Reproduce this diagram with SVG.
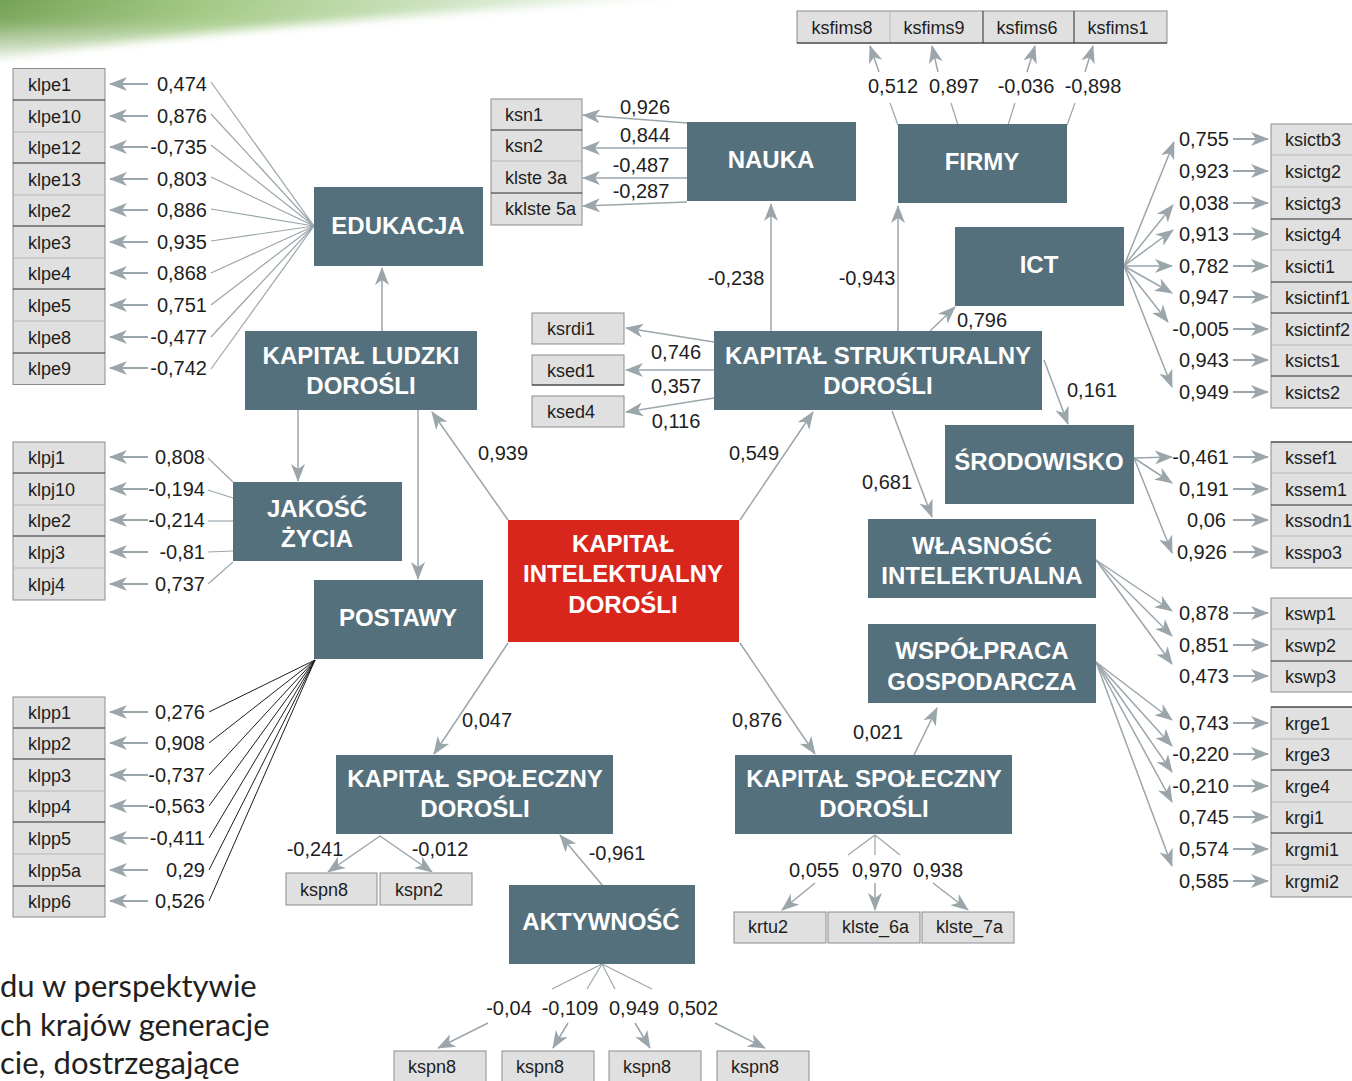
<svg xmlns="http://www.w3.org/2000/svg" width="1352" height="1081" viewBox="0 0 1352 1081">
<defs>
<linearGradient id="gg" x1="0" y1="0" x2="1" y2="0">
<stop offset="0" stop-color="#6a9a48"/>
<stop offset="0.25" stop-color="#9cc67c"/>
<stop offset="0.6" stop-color="#d8ead0"/>
<stop offset="1" stop-color="#ffffff" stop-opacity="0"/>
</linearGradient>
<linearGradient id="gv" x1="0" y1="0" x2="0" y2="1">
<stop offset="0" stop-color="#ffffff" stop-opacity="0"/>
<stop offset="0.5" stop-color="#ffffff" stop-opacity="0.1"/>
<stop offset="1" stop-color="#ffffff" stop-opacity="0.9"/>
</linearGradient>
<filter id="soft" x="-0.1" y="-0.5" width="1.2" height="2">
<feGaussianBlur stdDeviation="5"/>
</filter>
<marker id="ah" markerUnits="userSpaceOnUse" markerWidth="18" markerHeight="14" viewBox="0 0 18 14" refX="17" refY="7" orient="auto">
<path d="M0,0 L18,7 L0,14 L5,7 z" fill="#9aa6ab"/>
</marker>
<style>
.n{fill:#55707d}
.r{fill:#d9261c}
.nt{font-family:"Liberation Sans",Arial,sans-serif;font-weight:bold;font-size:24px;fill:#ffffff;text-anchor:middle}
.v{font-family:"Liberation Sans",Arial,sans-serif;font-size:20px;fill:#1e1e1e}
.l{font-family:"Liberation Sans",Arial,sans-serif;font-size:18px;fill:#1e1e1e}
.m{text-anchor:middle}
.e{text-anchor:end}
.ib{fill:#e0e0e0;stroke:#8c8c8c;stroke-width:1}
.sd{stroke:#2a2a2a;stroke-width:1}
.sl{stroke:#b8b8b8;stroke-width:1}
.c{stroke:#9aa6ab;stroke-width:1.2;fill:none}
.a{stroke:#9aa6ab;stroke-width:1.5;fill:none;marker-end:url(#ah)}
.s{stroke:#9aa6ab;stroke-width:2;fill:none;marker-end:url(#ah)}
.k{stroke:#1e1e1e;stroke-width:1;fill:none}
.body{font-family:Lato,"Liberation Sans",sans-serif;font-size:31px;fill:#231f20}
</style>
</defs>
<rect width="1352" height="1081" fill="#ffffff"/>
<g filter="url(#soft)">
<path d="M-20,-20 H860 C620,4 300,16 -20,60 Z" fill="url(#gg)"/>
<path d="M-20,-20 H860 C620,4 300,16 -20,60 Z" fill="url(#gv)"/>
</g>

<g id="connectors">
<g class="c">
<line x1="211" y1="82" x2="314" y2="226"/>
<line x1="211" y1="114" x2="314" y2="226"/>
<line x1="211" y1="145" x2="314" y2="226"/>
<line x1="211" y1="177" x2="314" y2="226"/>
<line x1="211" y1="209" x2="314" y2="226"/>
<line x1="211" y1="241" x2="314" y2="226"/>
<line x1="211" y1="273" x2="314" y2="226"/>
<line x1="211" y1="305" x2="314" y2="226"/>
<line x1="211" y1="337" x2="314" y2="226"/>
<line x1="211" y1="369" x2="314" y2="226"/>
</g>
<g class="c">
<line x1="208" y1="458" x2="233" y2="482"/>
<line x1="208" y1="490" x2="233" y2="498"/>
<line x1="208" y1="521" x2="233" y2="521"/>
<line x1="208" y1="552" x2="233" y2="551"/>
<line x1="208" y1="584" x2="233" y2="562"/>
</g>
<g class="k">
<line x1="209" y1="712" x2="315" y2="660"/>
<line x1="209" y1="743" x2="315" y2="660"/>
<line x1="209" y1="775" x2="315" y2="660"/>
<line x1="209" y1="806" x2="315" y2="660"/>
<line x1="209" y1="838" x2="315" y2="660"/>
<line x1="209" y1="870" x2="315" y2="660"/>
<line x1="209" y1="901" x2="315" y2="660"/>
</g>
<g class="s">
<line x1="148" y1="84" x2="110" y2="84"/>
<line x1="148" y1="116" x2="110" y2="116"/>
<line x1="148" y1="147" x2="110" y2="147"/>
<line x1="148" y1="179" x2="110" y2="179"/>
<line x1="148" y1="210" x2="110" y2="210"/>
<line x1="148" y1="242" x2="110" y2="242"/>
<line x1="148" y1="273" x2="110" y2="273"/>
<line x1="148" y1="305" x2="110" y2="305"/>
<line x1="148" y1="337" x2="110" y2="337"/>
<line x1="148" y1="368" x2="110" y2="368"/>
<line x1="148" y1="457" x2="110" y2="457"/>
<line x1="148" y1="489" x2="110" y2="489"/>
<line x1="148" y1="520" x2="110" y2="520"/>
<line x1="148" y1="552" x2="110" y2="552"/>
<line x1="148" y1="584" x2="110" y2="584"/>
<line x1="148" y1="712" x2="110" y2="712"/>
<line x1="148" y1="743" x2="110" y2="743"/>
<line x1="148" y1="775" x2="110" y2="775"/>
<line x1="148" y1="806" x2="110" y2="806"/>
<line x1="148" y1="838" x2="110" y2="838"/>
<line x1="148" y1="870" x2="110" y2="870"/>
<line x1="148" y1="901" x2="110" y2="901"/>
</g>
<g class="s">
<line x1="1233" y1="139" x2="1268" y2="139"/>
<line x1="1233" y1="171" x2="1268" y2="171"/>
<line x1="1233" y1="203" x2="1268" y2="203"/>
<line x1="1233" y1="234" x2="1268" y2="234"/>
<line x1="1233" y1="266" x2="1268" y2="266"/>
<line x1="1233" y1="297" x2="1268" y2="297"/>
<line x1="1233" y1="329" x2="1268" y2="329"/>
<line x1="1233" y1="360" x2="1268" y2="360"/>
<line x1="1233" y1="392" x2="1268" y2="392"/>
<line x1="1233" y1="457" x2="1268" y2="457"/>
<line x1="1233" y1="489" x2="1268" y2="489"/>
<line x1="1233" y1="520" x2="1268" y2="520"/>
<line x1="1233" y1="552" x2="1268" y2="552"/>
<line x1="1233" y1="613" x2="1268" y2="613"/>
<line x1="1233" y1="645" x2="1268" y2="645"/>
<line x1="1233" y1="676" x2="1268" y2="676"/>
<line x1="1233" y1="723" x2="1268" y2="723"/>
<line x1="1233" y1="754" x2="1268" y2="754"/>
<line x1="1233" y1="786" x2="1268" y2="786"/>
<line x1="1233" y1="817" x2="1268" y2="817"/>
<line x1="1233" y1="849" x2="1268" y2="849"/>
<line x1="1233" y1="881" x2="1268" y2="881"/>
</g>
<g class="a">
<line x1="1124" y1="266" x2="1174" y2="142"/>
<line x1="1124" y1="266" x2="1173" y2="205"/>
<line x1="1124" y1="266" x2="1173" y2="230"/>
<line x1="1124" y1="266" x2="1172" y2="266"/>
<line x1="1124" y1="266" x2="1172" y2="293"/>
<line x1="1124" y1="266" x2="1168" y2="322"/>
<line x1="1124" y1="266" x2="1172" y2="387"/>
<line x1="1134" y1="458" x2="1172" y2="457"/>
<line x1="1134" y1="458" x2="1172" y2="483"/>
<line x1="1134" y1="458" x2="1172" y2="553"/>
<line x1="1096" y1="560" x2="1172" y2="611"/>
<line x1="1096" y1="560" x2="1172" y2="636"/>
<line x1="1096" y1="560" x2="1172" y2="664"/>
<line x1="1096" y1="662" x2="1172" y2="720"/>
<line x1="1096" y1="662" x2="1172" y2="746"/>
<line x1="1096" y1="662" x2="1172" y2="772"/>
<line x1="1096" y1="662" x2="1172" y2="802"/>
<line x1="1096" y1="662" x2="1172" y2="866"/>
<line x1="687" y1="123" x2="583" y2="115"/>
<line x1="687" y1="148" x2="583" y2="148"/>
<line x1="687" y1="178" x2="583" y2="178"/>
<line x1="687" y1="202" x2="583" y2="206"/>
<line x1="879" y1="72" x2="870" y2="46"/>
<line x1="938" y1="72" x2="932" y2="46"/>
<line x1="1027" y1="72" x2="1035" y2="46"/>
<line x1="1085" y1="72" x2="1093" y2="46"/>
<line x1="508" y1="520" x2="432" y2="412"/>
<line x1="740" y1="520" x2="813" y2="412"/>
<line x1="508" y1="643" x2="434" y2="754"/>
<line x1="740" y1="643" x2="815" y2="754"/>
<line x1="382" y1="331" x2="382" y2="268"/>
<line x1="298" y1="410" x2="298" y2="481"/>
<line x1="418" y1="410" x2="418" y2="579"/>
<line x1="771" y1="331" x2="771" y2="204"/>
<line x1="898" y1="331" x2="898" y2="206"/>
<line x1="930" y1="331" x2="955" y2="307"/>
<line x1="1044" y1="360" x2="1068" y2="424"/>
<line x1="892" y1="411" x2="932" y2="517"/>
<line x1="714" y1="342" x2="626" y2="328"/>
<line x1="714" y1="370" x2="626" y2="370"/>
<line x1="714" y1="398" x2="626" y2="412"/>
<line x1="914" y1="755" x2="937" y2="708"/>
<line x1="603" y1="886" x2="560" y2="835"/>
<line x1="380" y1="836" x2="328" y2="872"/>
<line x1="380" y1="836" x2="432" y2="872"/>
<line x1="815" y1="883" x2="782" y2="910"/>
<line x1="875" y1="883" x2="875" y2="910"/>
<line x1="933" y1="883" x2="968" y2="910"/>
<line x1="488" y1="1023" x2="438" y2="1048"/>
<line x1="568" y1="1023" x2="553" y2="1048"/>
<line x1="635" y1="1023" x2="650" y2="1048"/>
<line x1="715" y1="1023" x2="765" y2="1048"/>
</g>
<g class="c">
<line x1="898" y1="125" x2="890" y2="103"/>
<line x1="958" y1="125" x2="951" y2="103"/>
<line x1="1008" y1="125" x2="1015" y2="103"/>
<line x1="1067" y1="125" x2="1075" y2="103"/>
<line x1="875" y1="835" x2="848" y2="855"/>
<line x1="875" y1="835" x2="875" y2="855"/>
<line x1="875" y1="835" x2="900" y2="855"/>
<line x1="602" y1="964" x2="552" y2="989"/>
<line x1="602" y1="964" x2="587" y2="989"/>
<line x1="602" y1="964" x2="615" y2="989"/>
<line x1="602" y1="964" x2="652" y2="989"/>
</g>
</g>

<g id="ind-edukacja">
<rect class="ib" x="13" y="68.5" width="92" height="316"/>
<line class="sd" x1="13" y1="100" x2="105" y2="100"/>
<line class="sl" x1="13" y1="132" x2="105" y2="132"/>
<line class="sd" x1="13" y1="163" x2="105" y2="163"/>
<line class="sl" x1="13" y1="195" x2="105" y2="195"/>
<line class="sd" x1="13" y1="226" x2="105" y2="226"/>
<line class="sl" x1="13" y1="258" x2="105" y2="258"/>
<line class="sd" x1="13" y1="289" x2="105" y2="289"/>
<line class="sl" x1="13" y1="321" x2="105" y2="321"/>
<line class="sd" x1="13" y1="353" x2="105" y2="353"/>
<text class="l" x="28" y="91">klpe1</text>
<text class="l" x="28" y="123">klpe10</text>
<text class="l" x="28" y="154">klpe12</text>
<text class="l" x="28" y="186">klpe13</text>
<text class="l" x="28" y="217">klpe2</text>
<text class="l" x="28" y="249">klpe3</text>
<text class="l" x="28" y="280">klpe4</text>
<text class="l" x="28" y="312">klpe5</text>
<text class="l" x="28" y="344">klpe8</text>
<text class="l" x="28" y="375">klpe9</text>
<g class="v e">
<text x="207" y="91">0,474</text>
<text x="207" y="123">0,876</text>
<text x="207" y="154">-0,735</text>
<text x="207" y="186">0,803</text>
<text x="207" y="217">0,886</text>
<text x="207" y="249">0,935</text>
<text x="207" y="280">0,868</text>
<text x="207" y="312">0,751</text>
<text x="207" y="344">-0,477</text>
<text x="207" y="375">-0,742</text>
</g>
</g>

<g id="ind-jakosc">
<rect class="ib" x="13" y="442" width="92" height="158"/>
<line class="sd" x1="13" y1="473" x2="105" y2="473"/>
<line class="sl" x1="13" y1="505" x2="105" y2="505"/>
<line class="sd" x1="13" y1="536" x2="105" y2="536"/>
<line class="sl" x1="13" y1="568" x2="105" y2="568"/>
<text class="l" x="28" y="464">klpj1</text>
<text class="l" x="28" y="496">klpj10</text>
<text class="l" x="28" y="527">klpe2</text>
<text class="l" x="28" y="559">klpj3</text>
<text class="l" x="28" y="591">klpj4</text>
<g class="v e">
<text x="205" y="464">0,808</text>
<text x="205" y="496">-0,194</text>
<text x="205" y="527">-0,214</text>
<text x="205" y="559">-0,81</text>
<text x="205" y="591">0,737</text>
</g>
</g>

<g id="ind-postawy">
<rect class="ib" x="13" y="697" width="92" height="220"/>
<line class="sd" x1="13" y1="728" x2="105" y2="728"/>
<line class="sd" x1="13" y1="759" x2="105" y2="759"/>
<line class="sl" x1="13" y1="791" x2="105" y2="791"/>
<line class="sd" x1="13" y1="822" x2="105" y2="822"/>
<line class="sl" x1="13" y1="854" x2="105" y2="854"/>
<line class="sd" x1="13" y1="886" x2="105" y2="886"/>
<text class="l" x="28" y="719">klpp1</text>
<text class="l" x="28" y="750">klpp2</text>
<text class="l" x="28" y="782">klpp3</text>
<text class="l" x="28" y="813">klpp4</text>
<text class="l" x="28" y="845">klpp5</text>
<text class="l" x="28" y="877">klpp5a</text>
<text class="l" x="28" y="908">klpp6</text>
<g class="v e">
<text x="205" y="719">0,276</text>
<text x="205" y="750">0,908</text>
<text x="205" y="782">-0,737</text>
<text x="205" y="813">-0,563</text>
<text x="205" y="845">-0,411</text>
<text x="205" y="877">0,29</text>
<text x="205" y="908">0,526</text>
</g>
</g>

<g id="ind-nauka">
<rect class="ib" x="491" y="99" width="91" height="126"/>
<line class="sd" x1="491" y1="130" x2="582" y2="130"/>
<line class="sl" x1="491" y1="161" x2="582" y2="161"/>
<line class="sd" x1="491" y1="193" x2="582" y2="193"/>
<text class="l" x="505" y="121">ksn1</text>
<text class="l" x="505" y="152">ksn2</text>
<text class="l" x="505" y="184">klste 3a</text>
<text class="l" x="505" y="215">kklste 5a</text>
<g class="v m">
<text x="645" y="114">0,926</text>
<text x="645" y="142">0,844</text>
<text x="641" y="172">-0,487</text>
<text x="641" y="198">-0,287</text>
</g>
</g>

<g id="ind-firmy">
<rect class="ib" x="797" y="11" width="370" height="32"/>
<line class="sl" x1="890" y1="11" x2="890" y2="43"/>
<line class="sd" x1="983" y1="11" x2="983" y2="43"/>
<line class="sd" x1="1074" y1="11" x2="1074" y2="43"/>
<line class="sd" x1="797" y1="43" x2="1167" y2="43"/>
<g class="l m">
<text x="842" y="34">ksfims8</text>
<text x="934" y="34">ksfims9</text>
<text x="1027" y="34">ksfims6</text>
<text x="1118" y="34">ksfims1</text>
</g>
<g class="v m">
<text x="893" y="93">0,512</text>
<text x="954" y="93">0,897</text>
<text x="1026" y="93">-0,036</text>
<text x="1093" y="93">-0,898</text>
</g>
</g>

<g id="ind-struktural">
<rect class="ib" x="532" y="313" width="92" height="31"/>
<rect class="ib" x="532" y="355" width="92" height="30"/>
<rect class="ib" x="532" y="396" width="92" height="31"/>
<line class="sd" x1="532" y1="385" x2="624" y2="385"/>
<text class="l" x="547" y="335">ksrdi1</text>
<text class="l" x="547" y="377">ksed1</text>
<text class="l" x="547" y="418">ksed4</text>
<g class="v m">
<text x="676" y="359">0,746</text>
<text x="676" y="393">0,357</text>
<text x="676" y="428">0,116</text>
</g>
</g>

<g id="ind-ict">
<rect class="ib" x="1271" y="124" width="90" height="284"/>
<line class="sl" x1="1271" y1="155" x2="1352" y2="155"/>
<line class="sl" x1="1271" y1="187" x2="1352" y2="187"/>
<line class="sd" x1="1271" y1="219" x2="1352" y2="219"/>
<line class="sl" x1="1271" y1="250" x2="1352" y2="250"/>
<line class="sd" x1="1271" y1="282" x2="1352" y2="282"/>
<line class="sd" x1="1271" y1="313" x2="1352" y2="313"/>
<line class="sl" x1="1271" y1="345" x2="1352" y2="345"/>
<line class="sd" x1="1271" y1="376" x2="1352" y2="376"/>
<text class="l" x="1285" y="146">ksictb3</text>
<text class="l" x="1285" y="178">ksictg2</text>
<text class="l" x="1285" y="210">ksictg3</text>
<text class="l" x="1285" y="241">ksictg4</text>
<text class="l" x="1285" y="273">ksicti1</text>
<text class="l" x="1285" y="304">ksictinf1</text>
<text class="l" x="1285" y="336">ksictinf2</text>
<text class="l" x="1285" y="367">ksicts1</text>
<text class="l" x="1285" y="399">ksicts2</text>
<g class="v e">
<text x="1229" y="146">0,755</text>
<text x="1229" y="178">0,923</text>
<text x="1229" y="210">0,038</text>
<text x="1229" y="241">0,913</text>
<text x="1229" y="273">0,782</text>
<text x="1229" y="304">0,947</text>
<text x="1229" y="336">-0,005</text>
<text x="1229" y="367">0,943</text>
<text x="1229" y="399">0,949</text>
</g>
</g>

<g id="ind-srodowisko">
<rect class="ib" x="1271" y="442" width="90" height="126"/>
<line class="sl" x1="1271" y1="473" x2="1352" y2="473"/>
<line class="sd" x1="1271" y1="505" x2="1352" y2="505"/>
<line class="sl" x1="1271" y1="536" x2="1352" y2="536"/>
<line class="sd" x1="1271" y1="442" x2="1352" y2="442"/>
<text class="l" x="1285" y="464">kssef1</text>
<text class="l" x="1285" y="496">kssem1</text>
<text class="l" x="1285" y="527">kssodn1</text>
<text class="l" x="1285" y="559">ksspo3</text>
<g class="v e">
<text x="1229" y="464">-0,461</text>
<text x="1229" y="496">0,191</text>
<text x="1226" y="527">0,06</text>
<text x="1227" y="559">0,926</text>
</g>
</g>

<g id="ind-wlasnosc">
<rect class="ib" x="1271" y="598" width="90" height="94"/>
<line class="sl" x1="1271" y1="629" x2="1352" y2="629"/>
<line class="sd" x1="1271" y1="661" x2="1352" y2="661"/>
<text class="l" x="1285" y="620">kswp1</text>
<text class="l" x="1285" y="652">kswp2</text>
<text class="l" x="1285" y="683">kswp3</text>
<g class="v e">
<text x="1229" y="620">0,878</text>
<text x="1229" y="652">0,851</text>
<text x="1229" y="683">0,473</text>
</g>
</g>

<g id="ind-wspolpraca">
<rect class="ib" x="1271" y="707" width="90" height="190"/>
<line class="sd" x1="1271" y1="707" x2="1352" y2="707"/>
<line class="sl" x1="1271" y1="739" x2="1352" y2="739"/>
<line class="sd" x1="1271" y1="770" x2="1352" y2="770"/>
<line class="sl" x1="1271" y1="802" x2="1352" y2="802"/>
<line class="sd" x1="1271" y1="833" x2="1352" y2="833"/>
<line class="sl" x1="1271" y1="865" x2="1352" y2="865"/>
<text class="l" x="1285" y="730">krge1</text>
<text class="l" x="1285" y="761">krge3</text>
<text class="l" x="1285" y="793">krge4</text>
<text class="l" x="1285" y="824">krgi1</text>
<text class="l" x="1285" y="856">krgmi1</text>
<text class="l" x="1285" y="888">krgmi2</text>
<g class="v e">
<text x="1229" y="730">0,743</text>
<text x="1229" y="761">-0,220</text>
<text x="1229" y="793">-0,210</text>
<text x="1229" y="824">0,745</text>
<text x="1229" y="856">0,574</text>
<text x="1229" y="888">0,585</text>
</g>
</g>

<g id="ind-spoleczny-l">
<rect class="ib" x="286" y="873" width="91" height="32"/>
<rect class="ib" x="380" y="873" width="92" height="32"/>
<text class="l" x="300" y="896">kspn8</text>
<text class="l" x="395" y="896">kspn2</text>
<g class="v m">
<text x="315" y="856">-0,241</text>
<text x="440" y="856">-0,012</text>
</g>
</g>

<g id="ind-spoleczny-r">
<rect class="ib" x="734" y="912" width="92" height="31"/>
<rect class="ib" x="828" y="912" width="92" height="31"/>
<rect class="ib" x="922" y="912" width="92" height="31"/>
<text class="l" x="748" y="933">krtu2</text>
<text class="l" x="842" y="933">klste_6a</text>
<text class="l" x="936" y="933">klste_7a</text>
<g class="v m">
<text x="814" y="877">0,055</text>
<text x="877" y="877">0,970</text>
<text x="938" y="877">0,938</text>
</g>
</g>

<g id="ind-aktywnosc">
<rect class="ib" x="394" y="1051" width="92" height="34"/>
<rect class="ib" x="502" y="1051" width="92" height="34"/>
<rect class="ib" x="609" y="1051" width="92" height="34"/>
<rect class="ib" x="717" y="1051" width="92" height="34"/>
<text class="l" x="408" y="1073">kspn8</text>
<text class="l" x="516" y="1073">kspn8</text>
<text class="l" x="623" y="1073">kspn8</text>
<text class="l" x="731" y="1073">kspn8</text>
<g class="v m">
<text x="509" y="1015">-0,04</text>
<text x="570" y="1015">-0,109</text>
<text x="634" y="1015">0,949</text>
<text x="693" y="1015">0,502</text>
</g>
</g>

<g id="path-labels" class="v m">
<text x="503" y="460">0,939</text>
<text x="754" y="460">0,549</text>
<text x="487" y="727">0,047</text>
<text x="757" y="727">0,876</text>
<text x="878" y="739">0,021</text>
<text x="617" y="860">-0,961</text>
<text x="736" y="285">-0,238</text>
<text x="867" y="285">-0,943</text>
<text x="982" y="327">0,796</text>
<text x="1092" y="397">0,161</text>
<text x="887" y="489">0,681</text>
</g>

<g id="edukacja"><rect class="n" x="314" y="187" width="169" height="79"/><text class="nt" x="398" y="234">EDUKACJA</text></g>
<g id="nauka"><rect class="n" x="687" y="122" width="169" height="79"/><text class="nt" x="771" y="168">NAUKA</text></g>
<g id="firmy"><rect class="n" x="898" y="124" width="169" height="79"/><text class="nt" x="982" y="170">FIRMY</text></g>
<g id="ict"><rect class="n" x="955" y="227" width="169" height="79"/><text class="nt" x="1039" y="273">ICT</text></g>
<g id="kapital-ludzki"><rect class="n" x="245" y="331" width="232" height="79"/><text class="nt" x="361" y="364">KAPITAŁ LUDZKI</text><text class="nt" x="361" y="394">DOROŚLI</text></g>
<g id="kapital-strukturalny"><rect class="n" x="714" y="331" width="328" height="79"/><text class="nt" x="878" y="364">KAPITAŁ STRUKTURALNY</text><text class="nt" x="878" y="394">DOROŚLI</text></g>
<g id="srodowisko"><rect class="n" x="945" y="425" width="189" height="79"/><text class="nt" x="1039" y="470">ŚRODOWISKO</text></g>
<g id="wlasnosc"><rect class="n" x="868" y="519" width="228" height="79"/><text class="nt" x="982" y="554">WŁASNOŚĆ</text><text class="nt" x="982" y="584">INTELEKTUALNA</text></g>
<g id="wspolpraca"><rect class="n" x="868" y="624" width="228" height="79"/><text class="nt" x="982" y="659">WSPÓŁPRACA</text><text class="nt" x="982" y="690">GOSPODARCZA</text></g>
<g id="kapital-intelektualny"><rect class="r" x="508" y="520" width="231" height="122"/><text class="nt" x="623" y="552">KAPITAŁ</text><text class="nt" x="623" y="582">INTELEKTUALNY</text><text class="nt" x="623" y="613">DOROŚLI</text></g>
<g id="jakosc"><rect class="n" x="233" y="482" width="169" height="79"/><text class="nt" x="317" y="517">JAKOŚĆ</text><text class="nt" x="317" y="547">ŻYCIA</text></g>
<g id="postawy"><rect class="n" x="314" y="580" width="169" height="79"/><text class="nt" x="398" y="626">POSTAWY</text></g>
<g id="kapital-spoleczny-l"><rect class="n" x="336" y="755" width="277" height="79"/><text class="nt" x="475" y="787">KAPITAŁ SPOŁECZNY</text><text class="nt" x="475" y="817">DOROŚLI</text></g>
<g id="aktywnosc"><rect class="n" x="509" y="885" width="186" height="79"/><text class="nt" x="601" y="930">AKTYWNOŚĆ</text></g>
<g id="kapital-spoleczny-r"><rect class="n" x="735" y="755" width="277" height="79"/><text class="nt" x="874" y="787">KAPITAŁ SPOŁECZNY</text><text class="nt" x="874" y="817">DOROŚLI</text></g>

<g id="body-text" class="body">
<text x="0" y="997">du w perspektywie</text>
<text x="0" y="1036">ch krajów generacje</text>
<text x="0" y="1074">cie, dostrzegające</text>
</g>
</svg>
